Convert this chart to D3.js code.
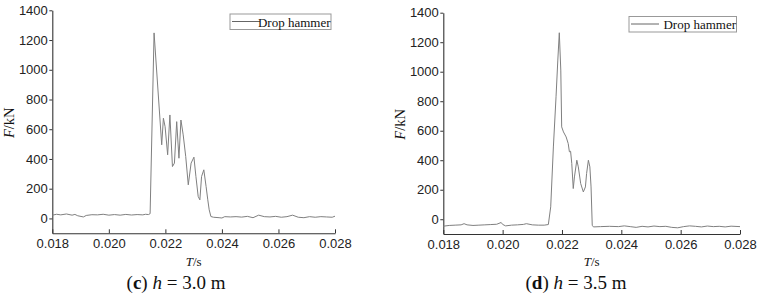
<!DOCTYPE html>
<html>
<head>
<meta charset="utf-8">
<script src="https://d3js.org/d3.v7.min.js"></script>
<style>
    body {margin:0; background:#fff;}
    svg {display:block;}
    .tick text {font-family:"Liberation Sans",Arial,sans-serif; font-size:13px; fill:#222;}
    .serif {font-family:"Liberation Serif","Times New Roman",serif; fill:#111;}
</style>
</head>
<body>
<script>
// shared axis ticks
const xTicks = [0.018, 0.020, 0.022, 0.024, 0.026, 0.028];
const yTicks = [0, 200, 400, 600, 800, 1000, 1200, 1400];
const legendLabel = "Drop hammer";

// (c) h = 3.0 m
const timeC = [0.0180,0.01815,0.0183,0.0185,0.0187,0.0188,0.0189,0.0191,0.0192,0.0194,0.0196,0.0198,0.0200,0.0202,0.0204,0.0206,0.0208,0.0210,0.0212,0.0213,0.0214,0.02146,
    0.0216,0.02187,0.02193,0.02199,0.02208,0.02216,0.02225,0.02232,0.0224,0.02248,0.02255,0.02263,0.02272,0.02281,0.02291,0.02301,0.02308,0.02316,0.02322,0.02328,0.02336,0.02344,0.0235,0.02355,0.02361,
    0.0237,0.0239,0.0240,0.0241,0.0243,0.0245,0.0247,0.0249,0.0251,0.0253,0.0255,0.0257,0.0259,0.0261,0.0263,0.0265,0.0267,0.0269,0.0271,0.0273,0.0275,0.0277,0.0279,0.0280];
const forceC = [22,28,24,30,22,27,18,10,20,25,24,28,22,26,22,27,23,26,24,28,26,32,
    1248,495,674,617,428,696,349,372,651,405,662,562,416,226,372,412,282,148,125,282,327,215,125,58,13,
    8,5,3,12,10,12,9,14,5,22,12,10,14,8,12,22,8,5,12,8,12,10,8,15];

// (d) h = 3.5 m
const timeD = [0.0180,0.0182,0.0184,0.0186,0.0187,0.0188,0.0190,0.0192,0.0194,0.0196,0.0198,0.01995,0.0200,0.0201,0.0203,0.0205,0.0207,0.0208,0.0210,0.0212,0.0214,0.02154,
    0.02162,0.02171,0.0218,0.02186,0.02191,0.02196,0.02199,0.02205,0.02214,0.02221,0.02225,0.02229,0.02233,0.02238,0.02242,0.0225,0.02255,0.02263,0.02272,0.02279,0.02283,0.02289,0.02294,0.02298,0.02302,
    0.02306,0.0233,0.0236,0.0239,0.0241,0.0243,0.0245,0.0247,0.0249,0.0251,0.0253,0.0255,0.0257,0.0259,0.0261,0.0263,0.0265,0.0267,0.0269,0.0271,0.0273,0.0275,0.0277,0.0280];
const forceD = [-47,-42,-40,-38,-30,-38,-42,-40,-38,-36,-34,-22,-35,-45,-40,-38,-35,-30,-38,-40,-40,-36,
    84,490,830,1079,1264,1011,626,592,558,513,457,461,378,208,287,400,355,242,185,219,310,400,355,219,-41,
    -52,-50,-48,-50,-45,-50,-55,-48,-52,-46,-50,-48,-55,-58,-50,-45,-48,-52,-46,-50,-48,-52,-47,-50];

const svg = d3.select("body").append("svg")
    .attr("width",761)
    .attr("height",298);

function drawPanel(p) {
    const xScale = d3.scaleLinear().domain([0.018,0.028]).range([p.x0,p.x1]);
    const yScale = d3.scaleLinear().domain([-100,1400]).range([p.yBot,p.yTop]);
    const g = svg.append("g");

    // x axis, ticks pointing inside
    g.append("g")
        .attr("transform",`translate(0,${p.yBot})`)
        .call(d3.axisBottom(xScale).tickValues(xTicks).tickFormat(d3.format(".3f")).tickSizeInner(-4).tickSizeOuter(0).tickPadding(5.5))
        .style("color","#333");
    g.append("g")
        .attr("transform",`translate(${p.x0},0)`)
        .call(d3.axisLeft(yScale).tickValues(yTicks).tickFormat(d3.format("d")).tickSizeInner(3).tickSizeOuter(0).tickPadding(1.5))
        .style("color","#333");
    g.selectAll(".domain").attr("stroke-width",1.1);

    const dataset = p.time.map((t,i) => ({time:t, value:p.force[i]}));
    const line = d3.line()
        .x(d => xScale(d.time))
        .y(d => yScale(d.value));
    g.append("path")
        .datum(dataset)
        .attr("d",line)
        .attr("fill","none")
        .attr("stroke","#808080")
        .attr("stroke-width",1);

    // legend
    const lg = g.append("g").attr("transform",`translate(${p.legX},${p.legY})`);
    lg.append("rect")
        .attr("width",p.legW).attr("height",15.5)
        .attr("fill","#fff").attr("stroke","#999").attr("stroke-width",1);
    lg.append("line")
        .attr("x1",2).attr("x2",30).attr("y1",7.5).attr("y2",7.5)
        .attr("stroke","#666");
    lg.append("text").attr("class","serif")
        .attr("x",p.legW-0.5).attr("y",12.5).attr("text-anchor","end")
        .style("font-size","13px")
        .text(legendLabel);

    // axis titles
    const yt = g.append("text").attr("class","serif")
        .attr("transform",`translate(${p.x0-38},${(p.yTop+p.yBot)/2 + 1}) rotate(-90)`)
        .attr("text-anchor","middle")
        .style("font-size","14.5px");
    yt.append("tspan").style("font-style","italic").text("F");
    yt.append("tspan").text("/kN");

    const xt = g.append("text").attr("class","serif")
        .attr("x",(p.x0+p.x1)/2).attr("y",266)
        .attr("text-anchor","middle")
        .style("font-size","13px");
    xt.append("tspan").style("font-style","italic").text("T");
    xt.append("tspan").text("/s");

    // caption
    const cap = g.append("text").attr("class","serif")
        .attr("x",p.capX).attr("y",288.5)
        .attr("text-anchor","middle")
        .style("font-size","19px");
    cap.append("tspan").text("(");
    cap.append("tspan").style("font-weight","bold").text(p.letter);
    cap.append("tspan").text(") ");
    cap.append("tspan").style("font-style","italic").text("h");
    cap.append("tspan").text(" = " + p.height + " m");
}

drawPanel({time:timeC, force:forceC, x0:52.3, x1:335, yTop:10.3, yBot:233.3,
    legX:230, legY:14, legW:101, capX:176, letter:"c", height:"3.0"});
drawPanel({time:timeD, force:forceD, x0:443.3, x1:740, yTop:12.7, yBot:234,
    legX:629, legY:16.5, legW:107.5, capX:576, letter:"d", height:"3.5"});
</script>
</body>
</html>
